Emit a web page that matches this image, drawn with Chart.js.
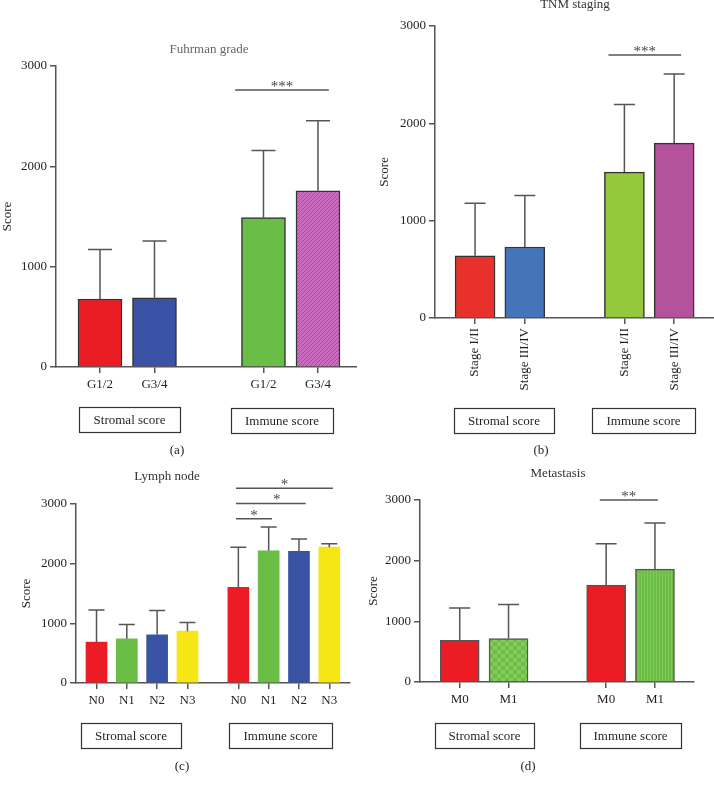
<!DOCTYPE html>
<html><head><meta charset="utf-8">
<script src="https://cdn.jsdelivr.net/npm/chart.js@4/dist/chart.umd.min.js"></script>
<style>
html,body{margin:0;padding:0;background:#fff;width:714px;height:785px;overflow:hidden}
canvas{position:absolute}
</style></head><body>
<canvas id="ca" width="357" height="462" style="left:0;top:0"></canvas>
<canvas id="cb" width="357" height="462" style="left:357px;top:0"></canvas>
<canvas id="cc" width="357" height="323" style="left:0;top:462px"></canvas>
<canvas id="cd" width="357" height="323" style="left:357px;top:462px"></canvas>
<script>
// ---------- DATA ----------
const groupLabels = ['Stromal score', 'Immune score'];
const yTicks = [0, 1000, 2000, 3000];

// (a) Fuhrman grade
const gradeLabels = ['G1/2', 'G3/4', 'G1/2', 'G3/4'];
const gradeStromalMean = [678, 690];
const gradeStromalSD = [492, 565];
const gradeImmuneMean = [1488, 1757];
const gradeImmuneSD = [669, 698];

// (b) TNM staging
const stageLabels = ['Stage I/II', 'Stage III/IV', 'Stage I/II', 'Stage III/IV'];
const stageStromalMean = [640, 729];
const stageStromalSD = [540, 530];
const stageImmuneMean = [1499, 1797];
const stageImmuneSD = [694, 711];

// (c) Lymph node
const nodeLabels = ['N0', 'N1', 'N2', 'N3', 'N0', 'N1', 'N2', 'N3'];
const nodeStromalMean = [685, 740, 807, 869];
const nodeStromalSD = [539, 239, 406, 143];
const nodeImmuneMean = [1603, 2215, 2205, 2277];
const nodeImmuneSD = [674, 401, 210, 55];

// (d) Metastasis
const metaLabels = ['M0', 'M1', 'M0', 'M1'];
const metaStromalMean = [688, 716];
const metaStromalSD = [533, 561];
const metaImmuneMean = [1596, 1860];
const metaImmuneSD = [681, 759];

// ---------- STYLE / PATTERNS ----------
Chart.defaults.font.family = '"Liberation Serif", "Times New Roman", serif';
Chart.defaults.color = '#231f20';
const FONT = '"Liberation Serif", "Times New Roman", serif';

function tile(w, h, draw) {
  const c = document.createElement('canvas'); c.width = w; c.height = h;
  const g = c.getContext('2d'); draw(g);
  return document.createElement('canvas').getContext('2d').createPattern(c, 'repeat');
}
const pinkHatch = tile(4, 4, g => {
  g.fillStyle = '#cc6cc0'; g.fillRect(0, 0, 4, 4);
  g.fillStyle = '#a94a9e';
  for (let i = 0; i < 4; i++) g.fillRect(i, 3 - i, 1, 1);
});
const greenChecker = tile(8, 8, g => {
  g.fillStyle = '#6cbd45'; g.fillRect(0, 0, 8, 8);
  g.fillStyle = '#86cb5c'; g.fillRect(0, 0, 4, 4); g.fillRect(4, 4, 4, 4);
});
const greenStripes = tile(3, 4, g => {
  g.fillStyle = '#6abd45'; g.fillRect(0, 0, 3, 4);
  g.fillStyle = '#82c95a'; g.fillRect(2, 0, 1, 4);
});

// ---------- PANEL BUILDER ----------
function groupPositions(n, gap) {
  const p = [];
  for (let i = 0; i < n; i++) p.push(i + 1);
  for (let i = 0; i < n; i++) p.push(n + gap + i);
  return p;
}

function makePanel(cfg) {
  const means = cfg.stromal.concat(cfg.immune);
  const sds = cfg.stromalSD.concat(cfg.immuneSD);
  const xpos = groupPositions(cfg.stromal.length, cfg.gap);
  const annot = {
    id: 'annot_' + cfg.id,
    afterDatasetsDraw(chart) {
      const ctx = chart.ctx, xs = chart.scales.x, ys = chart.scales.y;
      ctx.save();
      ctx.strokeStyle = '#555'; ctx.lineWidth = 1.5;
      means.forEach((m, i) => {
        const px = xs.getPixelForValue(xpos[i]);
        const y0 = ys.getPixelForValue(m), y1 = ys.getPixelForValue(m + sds[i]);
        ctx.beginPath();
        ctx.moveTo(px, y0); ctx.lineTo(px, y1);
        ctx.moveTo(px - cfg.cap / 2, y1); ctx.lineTo(px + cfg.cap / 2, y1);
        ctx.stroke();
      });
      ctx.restore();
    },
    afterDraw(chart) {
      const ctx = chart.ctx, xs = chart.scales.x, ys = chart.scales.y;
      ctx.save();
      // title
      ctx.font = '13px ' + FONT; ctx.fillStyle = cfg.titleColor;
      ctx.textAlign = 'center'; ctx.textBaseline = 'middle';
      ctx.fillText(cfg.title, cfg.titleX, cfg.titleY);
      // significance brackets
      ctx.strokeStyle = '#555'; ctx.lineWidth = 1.5;
      cfg.sig.forEach(s => {
        const x1 = xs.getPixelForValue(s.from), x2 = xs.getPixelForValue(s.to);
        const y = ys.getPixelForValue(s.at);
        ctx.beginPath(); ctx.moveTo(x1, y); ctx.lineTo(x2, y); ctx.stroke();
        ctx.fillStyle = '#444'; ctx.textBaseline = 'alphabetic';
        ctx.font = '15px ' + FONT;
        ctx.fillText(s.text, (x1 + x2) / 2 + (s.dx || 0), y + 1);
      });
      // group boxes
      ctx.strokeStyle = '#333'; ctx.lineWidth = 1.2;
      ctx.fillStyle = '#231f20'; ctx.textBaseline = 'middle'; ctx.font = '13px ' + FONT;
      cfg.boxes.forEach((b, i) => {
        ctx.strokeRect(b[0] + 0.5, b[1] + 0.5, b[2], b[3]);
        ctx.fillText(groupLabels[i], b[0] + b[2] / 2, b[1] + b[3] / 2 + 1);
      });
      // panel letter
      ctx.fillText(cfg.letter, cfg.letterX, cfg.letterY);
      ctx.restore();
    }
  };

  return new Chart(document.getElementById(cfg.id), {
    type: 'bar',
    data: {
      datasets: [{
        data: means.map((v, i) => ({ x: xpos[i], y: v })),
        backgroundColor: cfg.colors,
        borderColor: cfg.borderColor,
        borderWidth: cfg.borderWidth,
        barThickness: cfg.bar
      }]
    },
    options: {
      responsive: false, animation: false, events: [],
      devicePixelRatio: 1,
      layout: { padding: { top: cfg.top, right: cfg.right, left: 0, bottom: 0 } },
      plugins: { legend: { display: false }, tooltip: { enabled: false }, title: { display: false } },
      scales: {
        x: {
          type: 'linear', min: cfg.xmin, max: cfg.xmax, offset: false, bounds: 'data',
          grid: { drawOnChartArea: false, drawTicks: true, tickLength: 6, color: '#555', lineWidth: 1.5, offset: false },
          border: { display: true, color: '#555', width: 1.5 },
          afterBuildTicks: s => { s.ticks = xpos.map(v => ({ value: v })); },
          afterFit: s => { s.height = cfg.bottomH; },
          ticks: {
            autoSkip: false, padding: 4,
            minRotation: cfg.rotate, maxRotation: cfg.rotate,
            font: { size: 13 }, color: '#231f20',
            callback: v => { const k = xpos.indexOf(v); return k >= 0 ? cfg.labels[k] : ''; }
          }
        },
        y: {
          min: 0, max: 3000,
          afterBuildTicks: s => { s.ticks = yTicks.map(v => ({ value: v })); },
          afterFit: s => { s.width = cfg.yW; },
          grid: { drawOnChartArea: false, drawTicks: true, tickLength: 6, color: '#555', lineWidth: 1.5 },
          border: { display: true, color: '#555', width: 1.5 },
          ticks: { padding: 3, font: { size: 13 }, color: '#231f20', callback: v => String(v) },
          title: { display: true, text: 'Score', font: { size: 13 }, color: '#231f20',
                   padding: { top: cfg.scorePad, bottom: 0 } }
        }
      }
    },
    plugins: [annot]
  });
}

// (a)
makePanel({
  id: 'ca', stromal: gradeStromalMean, stromalSD: gradeStromalSD,
  immune: gradeImmuneMean, immuneSD: gradeImmuneSD, labels: gradeLabels, gap: 2,
  colors: ['#ec1c24', '#3a53a4', '#6abd45', pinkHatch],
  borderColor: '#333', borderWidth: 1.5, bar: 44, cap: 24,
  yW: 56, top: 66, bottomH: 95, right: 0, xmin: 0.193, xmax: 5.716, rotate: 0, scorePad: 0,
  title: 'Fuhrman grade', titleColor: '#666', titleX: 209, titleY: 50,
  sig: [{ from: 3.48, to: 5.2, at: 2760, text: '***' }],
  boxes: [[79, 407, 101, 25], [231, 408, 102, 25]],
  letter: '(a)', letterX: 177, letterY: 451
});
// (b)
makePanel({
  id: 'cb', stromal: stageStromalMean, stromalSD: stageStromalSD,
  immune: stageImmuneMean, immuneSD: stageImmuneSD, labels: stageLabels, gap: 2,
  colors: ['#e8312a', '#4475b8', '#96c83e', '#b4529c'],
  borderColor: '#333', borderWidth: 1.5, bar: 40, cap: 21,
  yW: 78, top: 26, bottomH: 144, right: 0, xmin: 0.195, xmax: 5.80, rotate: 90, scorePad: 20,
  title: 'TNM staging', titleColor: '#333', titleX: 218, titleY: 5,
  sig: [{ from: 3.68, to: 5.14, at: 2703, text: '***' }],
  boxes: [[97, 408, 100, 25], [235, 408, 103, 25]],
  letter: '(b)', letterX: 184, letterY: 451
});
// (c)
makePanel({
  id: 'cc', stromal: nodeStromalMean, stromalSD: nodeStromalSD,
  immune: nodeImmuneMean, immuneSD: nodeImmuneSD, labels: nodeLabels, gap: 1.68,
  colors: ['#ec1c24', '#6abd45', '#3953a4', '#f5e614', '#ec1c24', '#6abd45', '#3953a4', '#f5e614'],
  borderColor: 'rgba(0,0,0,0)', borderWidth: 0, bar: 21, cap: 16,
  yW: 76, top: 42, bottomH: 102, right: 7, xmin: 0.323, xmax: 9.363, rotate: 0, scorePad: 19,
  title: 'Lymph node', titleColor: '#333', titleX: 167, titleY: 15,
  sig: [{ from: 5.60, to: 6.79, at: 2754, text: '*' },
        { from: 5.60, to: 7.90, at: 3010, text: '*', dx: 6 },
        { from: 5.60, to: 8.80, at: 3265, text: '*' }],
  boxes: [[81, 261, 100, 25], [229, 261, 103, 25]],
  letter: '(c)', letterX: 182, letterY: 305
});
// (d)
makePanel({
  id: 'cd', stromal: metaStromalMean, stromalSD: metaStromalSD,
  immune: metaImmuneMean, immuneSD: metaImmuneSD, labels: metaLabels, gap: 2,
  colors: ['#ec1c24', greenChecker, '#ec1c24', greenStripes],
  borderColor: '#555', borderWidth: 1.5, bar: 39, cap: 21,
  yW: 63, top: 38, bottomH: 103, right: 20, xmin: 0.186, xmax: 5.80, rotate: 0, scorePad: 9,
  title: 'Metastasis', titleColor: '#333', titleX: 201, titleY: 12,
  sig: [{ from: 3.87, to: 5.06, at: 3000, text: '**' }],
  boxes: [[78, 261, 99, 25], [223, 261, 101, 25]],
  letter: '(d)', letterX: 171, letterY: 305
});
</script>
</body></html>
